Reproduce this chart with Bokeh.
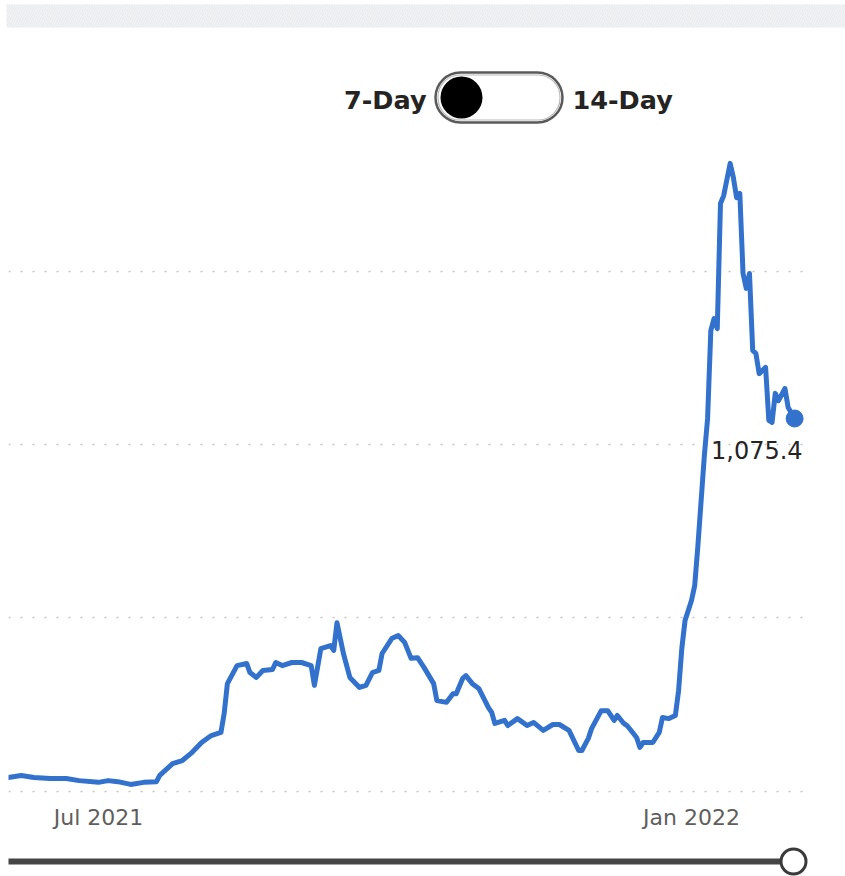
import pandas as pd
from bokeh.plotting import figure
from bokeh.layouts import column
from bokeh.models import Range1d, FixedTicker, DatetimeTickFormatter, Grid, Label, ColumnDataSource
from bokeh.embed import file_html
from bokeh.resources import INLINE
from bokeh.core.properties import value

# ---------------- data ----------------
start_date = "2021-06-01"
day_offsets = [2, 6, 10, 15, 20, 24, 30, 33, 36, 40, 44, 48, 49, 53, 56, 59, 62, 65, 68, 69,
               70, 73, 76, 77, 79, 81, 84, 85, 87, 90, 93, 96, 97, 99, 102, 103, 104, 106, 108, 111,
               113, 115, 117, 118, 121, 123, 125, 127, 129, 131, 134, 135, 138, 140, 141, 143, 144, 146, 148, 151,
               152, 153, 156, 157, 160, 163, 165, 168, 171, 173, 176, 179, 180, 182, 183, 186, 188, 190, 191, 193,
               194, 196, 197, 198, 199, 202, 204, 205, 207, 209, 210, 211, 212, 214, 215, 216, 218, 219, 220, 221,
               222, 223, 224, 226, 227, 228, 229, 230, 231, 232, 233, 234, 235, 237, 238, 239, 240, 241, 243, 244,
               246]
rate_values = [39, 45, 39, 36, 36, 30, 25, 30, 27, 19, 25, 27, 45, 79, 88, 111, 140, 160, 169, 224,
               310, 362, 368, 342, 328, 348, 351, 371, 362, 371, 371, 362, 305, 411, 420, 406, 486, 397, 328, 299,
               305, 342, 348, 397, 440, 449, 429, 383, 385, 357, 310, 261, 256, 281, 281, 325, 333, 310, 296, 241,
               227, 195, 204, 189, 209, 189, 198, 175, 192, 192, 175, 117, 117, 152, 180, 232, 232, 204, 218, 195,
               189, 166, 154, 126, 140, 140, 169, 212, 209, 218, 290, 411, 492, 550, 593, 709, 969, 1075, 1329, 1364,
               1335, 1696, 1719, 1812, 1771, 1713, 1725, 1494, 1451, 1494, 1272, 1263, 1205, 1223, 1070, 1064, 1148, 1127, 1162, 1107,
               1075.4]
tick_dates = ["2021-07-01", "2022-01-01"]
grid_values = [0, 500, 1000, 1500]
toggle_labels = ["7-Day", "14-Day"]

# ---------------- styling ----------------
BLUE = "#3271cc"
FONT = "DejaVu Sans"
W = 845
PX_PER_DAY = 3.2228          # horizontal scale of the reference
DAY0_PX = 1.3                # canvas x of start_date

x0 = pd.Timestamp(start_date)
dates = x0 + pd.to_timedelta(day_offsets, unit="D")
src = ColumnDataSource(data=dict(date=dates, value=rate_values))

common = dict(toolbar_location=None, output_backend="svg", outline_line_color=None,
              frame_align=False)

# ---------------- header: title strip + toggle ----------------
HH = 138
hdr = figure(width=W, height=HH, x_range=Range1d(0, W), y_range=Range1d(HH, 0),
             x_axis_location=None, y_axis_location=None, min_border=0, **common)
hdr.grid.visible = False
hdr.quad(left=[6], right=[845], top=[4], bottom=[27], fill_color="#f1f2f4", line_color=None,
         hatch_pattern="/", hatch_color="#e9eaed", hatch_scale=5, hatch_weight=1)
hdr.quad(left=[435], right=[562], top=[72], bottom=[122], border_radius=25,
         fill_color="white", line_color="#5a5a5a", line_width=2.5)
hdr.quad(left=[437.5], right=[559.5], top=[74.5], bottom=[119.5], border_radius=22,
         fill_color=None, line_color="#b9b9b9", line_width=1.2)
hdr.circle(x=[461], y=[97], radius=21, fill_color="black", line_color=None)
hdr.text(x=[426, 572], y=[99, 99], text=toggle_labels, text_align=["right", "left"],
         text_baseline="alphabetic", text_font=value(FONT), text_font_style="bold",
         text_font_size="25.5px", text_color="#252423")

# ---------------- main chart ----------------
MH = 708
xr = Range1d(x0 + pd.Timedelta(days=(8 - DAY0_PX) / PX_PER_DAY),
             x0 + pd.Timedelta(days=(810 - DAY0_PX) / PX_PER_DAY))
p = figure(width=W, height=MH, x_axis_type="datetime", x_range=xr,
           y_range=Range1d(-27.4, 1863.6), y_axis_location=None,
           min_border_left=8, min_border_right=35, min_border_top=7, min_border_bottom=46,
           **common)
p.grid.visible = False
p.add_layout(Grid(dimension=1, ticker=FixedTicker(ticks=grid_values), grid_line_color="#c4c4c4",
                  grid_line_dash="2 10", grid_line_width=1.5))

p.xaxis.ticker = FixedTicker(ticks=[pd.Timestamp(d).value / 1e6 for d in tick_dates])
fmt = "%b %Y"
p.xaxis.formatter = DatetimeTickFormatter(milliseconds=fmt, seconds=fmt, minsec=fmt, minutes=fmt,
                                          hourmin=fmt, hours=fmt, days=fmt, months=fmt, years=fmt)
p.xaxis.axis_line_color = None
p.xaxis.major_tick_line_color = None
p.xaxis.minor_tick_line_color = None
p.xaxis.major_tick_out = 0
p.xaxis.major_label_standoff = 4
p.xaxis.major_label_text_font = FONT
p.xaxis.major_label_text_font_size = "22px"
p.xaxis.major_label_text_color = "#605e5c"

p.line(x="date", y="value", source=src, line_color=BLUE, line_width=5,
       line_join="round", line_cap="round")
p.scatter(x=[dates[-1]], y=[rate_values[-1]], size=17, fill_color=BLUE, line_color=BLUE)
p.add_layout(Label(x=dates[-1], y=rate_values[-1], text=f"{rate_values[-1]:,.1f}",
                   text_align="right", text_baseline="top", x_offset=8, y_offset=-22,
                   text_font=FONT, text_font_size="24px", text_color="#252423"))

# ---------------- bottom slider ----------------
SH = 876 - HH - MH
sl = figure(width=W, height=SH, x_range=Range1d(0, W), y_range=Range1d(876, HH + MH),
            x_axis_location=None, y_axis_location=None, min_border=0, **common)
sl.grid.visible = False
sl.segment(x0=[8], y0=[861], x1=[793], y1=[861], line_width=6, line_color="#454545")
sl.circle(x=[793], y=[861], radius=12.5, fill_color="white", line_color="#3a3a3a", line_width=3)

layout = column(hdr, p, sl, spacing=0)
open("out.html", "w").write(file_html(layout, INLINE))
